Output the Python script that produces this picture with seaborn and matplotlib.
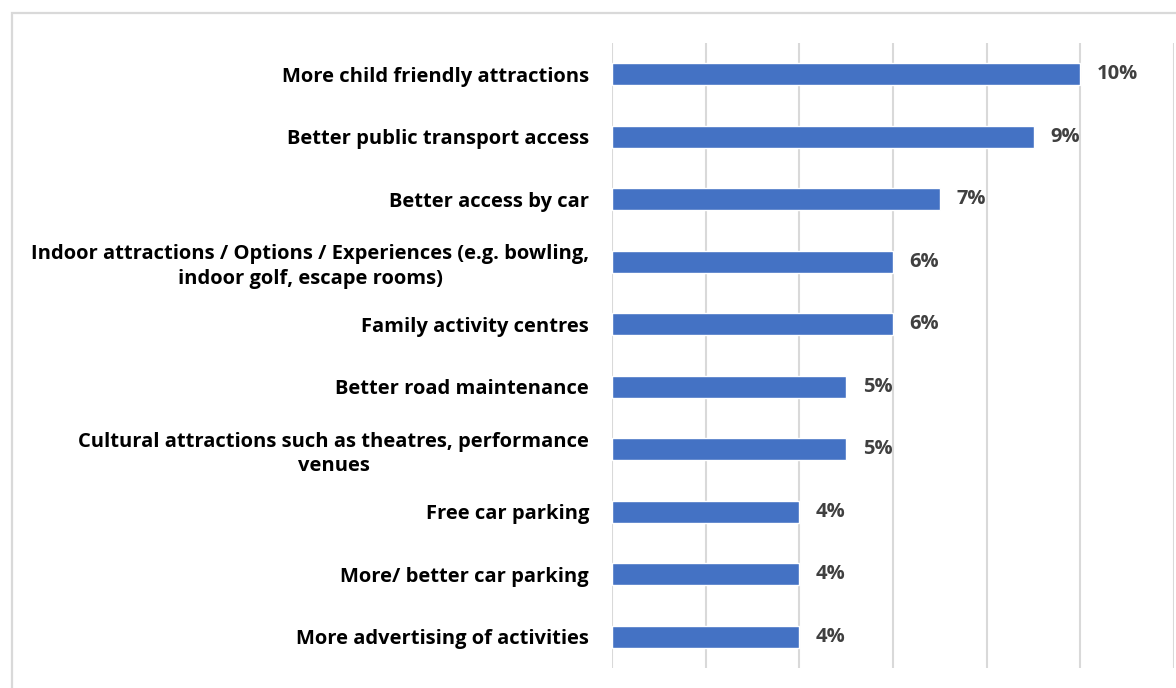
import matplotlib
matplotlib.use("Agg")
import matplotlib.pyplot as plt
from matplotlib.patches import Rectangle
import seaborn as sns
import pandas as pd

categories = [
    "More child friendly attractions",
    "Better public transport access",
    "Better access by car",
    "Indoor attractions / Options / Experiences (e.g. bowling,\nindoor golf, escape rooms)",
    "Family activity centres",
    "Better road maintenance",
    "Cultural attractions such as theatres, performance\nvenues",
    "Free car parking",
    "More/ better car parking",
    "More advertising of activities",
]
values = [10, 9, 7, 6, 6, 5, 5, 4, 4, 4]
value_labels = [f"{v}%" for v in values]

df = pd.DataFrame({"improvement": categories, "share": values})

sns.set_theme(style="white")
plt.rcParams["font.family"] = ["Open Sans", "DejaVu Sans"]

fig = plt.figure(figsize=(11.76, 6.88), dpi=100)
ax = fig.add_axes([612 / 1176, 20 / 688, 562 / 1176, 625 / 688])

# light outer frame around the chart area
fig.patches.append(Rectangle((12 / 1176, -0.1), 1.2, 0.1 + (688 - 13) / 688,
                             transform=fig.transFigure, fill=False,
                             edgecolor="#d9d9d9", linewidth=1.6, zorder=0))

sns.barplot(data=df, x="share", y="improvement", orient="h",
            color="#4472C4", saturation=1, width=0.35, ax=ax, zorder=3)

ax.set_xlim(0, 12)
ax.set_xticks(range(0, 13, 2))
ax.set_xticklabels([])
ax.tick_params(axis="x", length=0)
ax.tick_params(axis="y", length=0, pad=16.5)
ax.grid(axis="x", color="#d9d9d9", linewidth=1.5, zorder=0)
ax.grid(axis="y", visible=False)
for s in ax.spines.values():
    s.set_visible(False)
ax.set_xlabel("")
ax.set_ylabel("")

for lbl in ax.get_yticklabels():
    lbl.set_fontweight("bold")
    lbl.set_fontsize(14.5)
    lbl.set_color("black")
    lbl.set_multialignment("center")
    lbl.set_linespacing(1.3)

ax.bar_label(ax.containers[0], labels=value_labels, padding=12,
             fontsize=14.5, fontweight="bold", color="#404040")

fig.savefig("out.png", dpi=100)
